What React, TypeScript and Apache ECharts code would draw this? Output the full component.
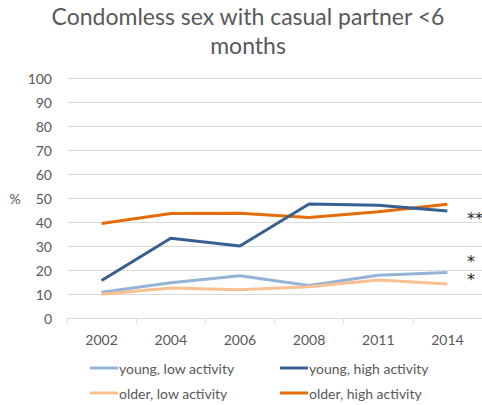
import React, { useEffect, useRef } from "react";
import * as echarts from "echarts";

const titleText = "Condomless sex with casual partner <6\nmonths";
const years = ["2002", "2004", "2006", "2008", "2011", "2014"];
const seriesNames = [
  "young, low activity",
  "young, high activity",
  "older, low activity",
  "older, high activity",
];
const youngLow = [10.7, 14.7, 17.6, 13.5, 17.8, 19.0];
const youngHigh = [15.6, 33.2, 30.0, 47.5, 47.0, 44.6];
const olderLow = [9.9, 12.5, 11.8, 13.0, 15.8, 14.2];
const olderHigh = [39.4, 43.5, 43.6, 41.9, 44.3, 47.4];
const seriesColors = ["#95B3D7", "#376092", "#FAC090", "#E46C0A"];
const significance = [
  { text: "**", y: 214 },
  { text: "*", y: 257 },
  { text: "*", y: 275 },
];
// legend slots: [series index, left, row center y]
const legendSlots = [
  [0, 90, 370],
  [1, 280, 370],
  [2, 90, 395],
  [3, 280, 395],
];

const FONT = "Lato";
const GREY = "#595959";

export default function App() {
  const ref = useRef<HTMLDivElement>(null);
  useEffect(() => {
    if (!ref.current) return;
    const chart = echarts.init(ref.current, undefined, { renderer: "svg" });
    const values = [youngLow, youngHigh, olderLow, olderHigh];
    chart.setOption({
      animation: false,
      backgroundColor: "#ffffff",
      title: {
        text: titleText,
        left: 248,
        textAlign: "center",
        top: 1,
        padding: 0,
        textStyle: {
          fontFamily: FONT,
          fontSize: 23,
          fontWeight: "normal",
          color: GREY,
          lineHeight: 29,
        },
      },
      legend: legendSlots.map(([i, left, cy]) => ({
        left,
        top: cy - 9,
        padding: 0,
        icon: "rect",
        itemWidth: 28,
        itemHeight: 3,
        data: [seriesNames[i]],
        textStyle: { fontFamily: FONT, fontSize: 14, color: GREY, padding: [0, 0, 0, -4] },
      })),
      grid: { left: 67, right: -7, top: 78, bottom: 87, containLabel: false },
      xAxis: {
        type: "category",
        data: years,
        boundaryGap: true,
        axisLine: { lineStyle: { color: "#D9D9D9", width: 1 } },
        axisTick: { show: true, length: 5, lineStyle: { color: "#D9D9D9" } },
        axisLabel: { fontFamily: FONT, fontSize: 14, color: GREY, margin: 14 },
      },
      yAxis: {
        type: "value",
        min: 0,
        max: 100,
        interval: 10,
        name: "%",
        nameLocation: "middle",
        nameRotate: 0,
        nameGap: 52,
        nameTextStyle: { fontFamily: FONT, fontSize: 14, color: GREY, align: "center" },
        axisLine: { show: false },
        axisTick: { show: false },
        axisLabel: { fontFamily: FONT, fontSize: 14, color: GREY, margin: 15 },
        splitLine: { lineStyle: { color: "#D9D9D9", width: 1 } },
      },
      series: seriesNames.map((name, i) => ({
        name,
        type: "line",
        data: values[i],
        symbol: "none",
        showSymbol: false,
        color: seriesColors[i],
        itemStyle: { color: seriesColors[i] },
        lineStyle: { width: 3, color: seriesColors[i] },
        z: i === 1 ? 3 : 2,
      })),
      graphic: significance.map((s) => ({
        type: "text",
        left: 467,
        top: s.y - 4,
        style: {
          text: s.text,
          font: `16px "DejaVu Sans"`,
          lineHeight: 16,
          fill: "#262626",
        },
      })),
    });
    return () => chart.dispose();
  }, []);
  return (
    <div
      ref={ref}
      style={{ position: "fixed", left: 0, top: 0, width: 482, height: 405 }}
    />
  );
}
